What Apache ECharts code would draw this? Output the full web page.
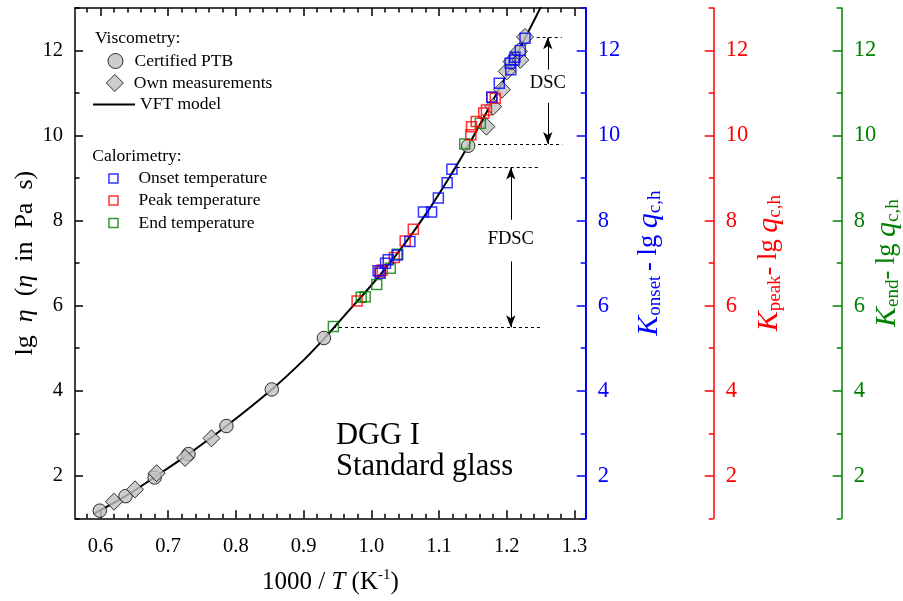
<!DOCTYPE html>
<html><head><meta charset="utf-8">
<script src="https://cdn.jsdelivr.net/npm/echarts@6/dist/echarts.min.js"></script>
<style>html,body{margin:0;padding:0;background:#fff}#c{width:903px;height:601px}</style>
</head><body><div id="c"></div>
<script>
const FONT = '"Liberation Serif", "Times New Roman", serif';
const BLUE = '#0000ff', RED = '#ff0000', GREEN = '#008000', GRAY = '#c0c0c0';

// axis extents and ticks
const X_MIN = 0.5624, X_MAX = 1.3166, Y_MIN = 1, Y_MAX = 13;
const xMajorTicks = [0.6, 0.7, 0.8, 0.9, 1.0, 1.1, 1.2, 1.3];
const xMinorTicks = [0.58, 0.62, 0.64, 0.66, 0.68, 0.72, 0.74, 0.76, 0.78, 0.82, 0.84, 0.86, 0.88,
  0.92, 0.94, 0.96, 0.98, 1.02, 1.04, 1.06, 1.08, 1.12, 1.14, 1.16, 1.18, 1.22, 1.24, 1.26, 1.28];
const yMajorTicks = [2, 4, 6, 8, 10, 12];
const yMinorTicks = [1, 3, 5, 7, 9, 11, 13];

// VFT model curve
const vftX = [0.590, 0.600, 0.640, 0.680, 0.730, 0.786, 0.853, 0.900, 0.930, 0.960, 1.000, 1.040, 1.080, 1.120, 1.143, 1.180, 1.200, 1.220, 1.242, 1.254];
const vftY = [1.10, 1.19, 1.55, 1.97, 2.51, 3.17, 4.03, 4.72, 5.22, 5.76, 6.48, 7.26, 8.14, 9.14, 9.76, 10.84, 11.44, 12.07, 12.76, 13.14];

// Viscometry
const ptbX = [0.599, 0.637, 0.680, 0.730, 0.786, 0.853, 0.930, 1.143];
const ptbY = [1.18, 1.52, 1.96, 2.51, 3.17, 4.03, 5.24, 9.76];
const ownX = [0.620, 0.651, 0.683, 0.725, 0.764, 1.170, 1.180, 1.193, 1.200, 1.207, 1.220, 1.218, 1.227];
const ownY = [1.39, 1.68, 2.06, 2.42, 2.88, 10.21, 10.68, 11.08, 11.51, 11.74, 11.78, 11.98, 12.32];

// Calorimetry
const onsetX = [1.227, 1.220, 1.212, 1.211, 1.205, 1.206, 1.189, 1.178, 1.119, 1.112, 1.099, 1.089, 1.077, 1.057, 1.038, 1.025, 1.021, 1.010, 1.013];
const onsetY = [12.29, 12.00, 11.84, 11.78, 11.70, 11.55, 11.23, 10.90, 9.21, 8.89, 8.53, 8.20, 8.20, 7.51, 7.19, 7.08, 7.00, 6.82, 6.76];
const peakX = [1.183, 1.178, 1.170, 1.166, 1.155, 1.148, 1.147, 1.062, 1.050, 1.034, 1.016, 1.013, 0.979];
const peakY = [10.88, 10.90, 10.60, 10.53, 10.33, 10.21, 10.02, 7.80, 7.52, 7.13, 6.84, 6.80, 6.11];
const endX = [1.161, 1.138, 1.039, 1.028, 1.008, 0.991, 0.985, 0.944];
const endY = [10.29, 9.80, 7.21, 6.88, 6.50, 6.21, 6.20, 5.51];

// annotation ranges
const dscLevels = [12.31, 9.80];
const dscDashX = [[1.2443, 1.2812], [1.1576, 1.2821]];
const dscArrowX = 1.2606, dscTextY = 11.24, dscGap = [11.55, 10.77];
const fdscLevels = [9.25, 5.49];
const fdscDashX = [[1.1262, 1.2492], [0.9434, 1.2492]];
const fdscArrowX = 1.206, fdscTextY = 7.56, fdscGap = [8.02, 7.04];

const zip = (a, b) => a.map((v, i) => [v, b[i]]);

function xAxisCfg(pos, ticks, len, line, labels) {
  return {
    type: 'value', position: pos, min: X_MIN, max: X_MAX, nameMoveOverlap: false,
    axisLine: { show: line, onZero: false, lineStyle: { color: '#000', width: 1.5 } },
    axisTick: { show: true, inside: true, length: len, customValues: ticks, lineStyle: { color: '#000', width: 1.5 } },
    axisLabel: labels ? { show: true, customValues: labels, margin: 18, color: '#000', fontFamily: FONT, fontSize: 20.5,
      formatter: v => v.toFixed(1) } : { show: false },
    splitLine: { show: false }
  };
}
function yAxisCfg(pos, offset, color, ticks, len, line, labels, lw) {
  return {
    type: 'value', position: pos, offset: offset, min: Y_MIN, max: Y_MAX, nameMoveOverlap: false,
    axisLine: { show: line, onZero: false, lineStyle: { color: color, width: lw || 1.5 } },
    axisTick: { show: true, inside: true, length: len, customValues: ticks, lineStyle: { color: color, width: 1.5 } },
    axisLabel: labels ? { show: true, customValues: labels, margin: 12, color: color, fontFamily: FONT,
      fontSize: pos === 'left' ? 20.5 : 22.5, formatter: v => String(v) } : { show: false },
    splitLine: { show: false }
  };
}
function rightName(color, subText) {
  return {
    name: '{k|K}{s|' + subText + '}{a|- lg }{q|q}{s|c,h}',
    nameLocation: 'middle', nameRotate: 90,
    nameTextStyle: {
      color: color, fontFamily: FONT,
      rich: {
        k: { fontFamily: FONT, fontSize: 30, fontStyle: 'italic', color: color, lineHeight: 32 },
        q: { fontFamily: FONT, fontSize: 30, fontStyle: 'italic', color: color, lineHeight: 32 },
        a: { fontFamily: FONT, fontSize: 26.5, color: color, lineHeight: 32 },
        s: { fontFamily: FONT, fontSize: 19, color: color, lineHeight: 18, verticalAlign: 'bottom' }
      }
    }
  };
}

const xAxes = [
  Object.assign(xAxisCfg('bottom', xMajorTicks, 8, true, xMajorTicks), {
    name: '{a|1000 / }{i|T}{a| (K}{u|-1}{a|)}', nameLocation: 'middle', nameGap: 49,
    nameTextStyle: { fontFamily: FONT, color: '#000', rich: {
      a: { fontFamily: FONT, fontSize: 25, color: '#000', lineHeight: 30 },
      i: { fontFamily: FONT, fontSize: 25, fontStyle: 'italic', color: '#000', lineHeight: 30 },
      u: { fontFamily: FONT, fontSize: 15, color: '#000', lineHeight: 17, verticalAlign: 'top' } } }
  }),
  xAxisCfg('bottom', xMinorTicks, 4.5, false, null),
  xAxisCfg('top', xMajorTicks, 8, true, null),
  xAxisCfg('top', xMinorTicks, 4.5, false, null)
];

const yAxes = [
  Object.assign(yAxisCfg('left', 0, '#000', yMajorTicks, 8, true, yMajorTicks), {
    name: '{a|lg  }{i|η}{a|  (}{i|η}{a|  in  Pa  s)}', nameLocation: 'middle', nameRotate: 90, nameGap: 37,
    nameTextStyle: { fontFamily: FONT, color: '#000', rich: {
      a: { fontFamily: FONT, fontSize: 26, color: '#000' },
      i: { fontFamily: FONT, fontSize: 26, fontStyle: 'italic', color: '#000' } } }
  }),
  yAxisCfg('left', 0, '#000', yMinorTicks, 4.5, false, null),
  Object.assign(yAxisCfg('right', 0, BLUE, yMajorTicks, 9, true, yMajorTicks, 2), rightName(BLUE, 'onset '), { nameGap: 47 }),
  yAxisCfg('right', 0, BLUE, yMinorTicks, 5, false, null),
  Object.assign(yAxisCfg('right', 128, RED, yMajorTicks, 9, true, yMajorTicks), rightName(RED, 'peak'), { nameGap: 39 }),
  yAxisCfg('right', 128, RED, yMinorTicks, 5, false, null),
  Object.assign(yAxisCfg('right', 256, GREEN, yMajorTicks, 9, true, yMajorTicks), rightName(GREEN, 'end'), { nameGap: 29 }),
  yAxisCfg('right', 256, GREEN, yMinorTicks, 5, false, null)
];

const legendCommon = { orient: 'horizontal', padding: 0, selectedMode: false,
  textStyle: { fontFamily: FONT, fontSize: 17.5, color: '#000' } };
const SQ = 'path://M0,0H9V9H0Z';
const DIA = 'path://M8.5,0L17,8.5L8.5,17L0,8.5Z';
const LINEICON = 'path://M0,0H42V2H0Z';
const legends = [
  Object.assign({ left: 107.5, top: 52, itemWidth: 28, itemHeight: 15,
    data: [{ name: 'Certified PTB', icon: 'circle', itemStyle: { color: GRAY, borderColor: '#000', borderWidth: 1 } }] }, legendCommon),
  Object.assign({ left: 105.8, top: 74, itemWidth: 28, itemHeight: 17,
    data: [{ name: 'Own measurements', icon: DIA, itemStyle: { color: GRAY, borderColor: '#000', borderWidth: 1 } }] }, legendCommon),
  Object.assign({ left: 93, top: 95.5, itemWidth: 42, itemHeight: 13,
    data: [{ name: 'VFT model', icon: LINEICON, itemStyle: { color: '#000', borderWidth: 0, opacity: 1 } }] }, legendCommon),
  Object.assign({ left: 108.2, top: 169.5, itemWidth: 40, itemHeight: 9,
    data: [{ name: 'Onset temperature', icon: SQ, itemStyle: { color: 'rgba(0,0,0,0)', borderColor: BLUE, borderWidth: 1.5 } }] }, legendCommon),
  Object.assign({ left: 108.2, top: 191.5, itemWidth: 40, itemHeight: 9,
    data: [{ name: 'Peak temperature', icon: SQ, itemStyle: { color: 'rgba(0,0,0,0)', borderColor: RED, borderWidth: 1.5 } }] }, legendCommon),
  Object.assign({ left: 108.2, top: 214, itemWidth: 40, itemHeight: 9,
    data: [{ name: 'End temperature', icon: SQ, itemStyle: { color: 'rgba(0,0,0,0)', borderColor: GREEN, borderWidth: 1.5 } }] }, legendCommon)
];

const sqStyle = c => ({ color: 'rgba(0,0,0,0)', borderColor: c, borderWidth: 1.5 });

const option = {
  animation: false,
  backgroundColor: '#fff',
  grid: { left: 75, right: 317.3, top: 8, bottom: 82.7, containLabel: false, outerBoundsMode: 'none' },
  xAxis: xAxes,
  yAxis: yAxes,
  legend: legends,
  graphic: [
    { type: 'text', x: 95, y: 38.3, style: { text: 'Viscometry:', fontFamily: FONT, fontSize: 17.5, fill: '#000', verticalAlign: 'middle' } },
    { type: 'text', x: 92.3, y: 156, style: { text: 'Calorimetry:', fontFamily: FONT, fontSize: 17.5, fill: '#000', verticalAlign: 'middle' } },
    { type: 'text', x: 336, y: 436, style: { text: 'DGG I', fontFamily: FONT, fontSize: 30.5, fill: '#000', verticalAlign: 'middle' } },
    { type: 'text', x: 336, y: 467, style: { text: 'Standard glass', fontFamily: FONT, fontSize: 30.5, fill: '#000', verticalAlign: 'middle' } }
  ],
  series: [
    {
      name: 'VFT model', type: 'line', data: zip(vftX, vftY), symbol: 'none', smooth: 0.35, silent: true,
      lineStyle: { color: '#000', width: 2 }, itemStyle: { color: '#000' }, z: 2,
      markLine: {
        silent: true, symbol: 'none', label: { show: false },
        lineStyle: { color: '#000', width: 1, type: [3, 3] },
        data: [
          [{ coord: [dscDashX[0][0], dscLevels[0]] }, { coord: [dscDashX[0][1], dscLevels[0]] }],
          [{ coord: [dscDashX[1][0], dscLevels[1]] }, { coord: [dscDashX[1][1], dscLevels[1]] }],
          [{ coord: [fdscDashX[0][0], fdscLevels[0]] }, { coord: [fdscDashX[0][1], fdscLevels[0]] }],
          [{ coord: [fdscDashX[1][0], fdscLevels[1]] }, { coord: [fdscDashX[1][1], fdscLevels[1]] }]
        ]
      }
    },
    { name: 'Certified PTB', type: 'scatter', data: zip(ptbX, ptbY), symbol: 'circle', symbolSize: 13.5, silent: true,
      itemStyle: { color: GRAY, borderColor: '#000', borderWidth: 1 }, z: 3 },
    { name: 'Own measurements', type: 'scatter', data: zip(ownX, ownY), symbol: 'diamond', symbolSize: 17, silent: true,
      itemStyle: { color: GRAY, borderColor: '#000', borderWidth: 1 }, z: 3 },
    { name: 'End temperature', type: 'scatter', data: zip(endX, endY), symbol: 'rect', symbolSize: 10, silent: true,
      itemStyle: sqStyle(GREEN), z: 4 },
    { name: 'Peak temperature', type: 'scatter', data: zip(peakX, peakY), symbol: 'rect', symbolSize: 10, silent: true,
      itemStyle: sqStyle(RED), z: 4 },
    { name: 'Onset temperature', type: 'scatter', data: zip(onsetX, onsetY), symbol: 'rect', symbolSize: 10, silent: true,
      itemStyle: sqStyle(BLUE), z: 4,
      markLine: {
        silent: true, symbol: ['none', 'arrow'], symbolSize: [7, 12], label: { show: false },
        lineStyle: { color: '#000', width: 1, type: 'solid' },
        data: [
          [{ coord: [dscArrowX, dscGap[0]] }, { coord: [dscArrowX, dscLevels[0]] }],
          [{ coord: [dscArrowX, dscGap[1]] }, { coord: [dscArrowX, dscLevels[1]] }],
          [{ coord: [fdscArrowX, fdscGap[0]] }, { coord: [fdscArrowX, fdscLevels[0]] }],
          [{ coord: [fdscArrowX, fdscGap[1]] }, { coord: [fdscArrowX, fdscLevels[1]] }]
        ]
      },
      markPoint: {
        silent: true, symbol: 'rect', symbolSize: 1, itemStyle: { color: 'rgba(0,0,0,0)' },
        label: { show: true, position: 'inside', formatter: '{b}', fontFamily: FONT, fontSize: 18.5, color: '#000' },
        data: [
          { name: 'DSC', coord: [dscArrowX, dscTextY] },
          { name: 'FDSC', coord: [fdscArrowX, fdscTextY] }
        ]
      }
    }
  ]
};

const chart = echarts.init(document.getElementById('c'), null, { renderer: 'canvas' });
chart.setOption(option);
</script></body></html>
